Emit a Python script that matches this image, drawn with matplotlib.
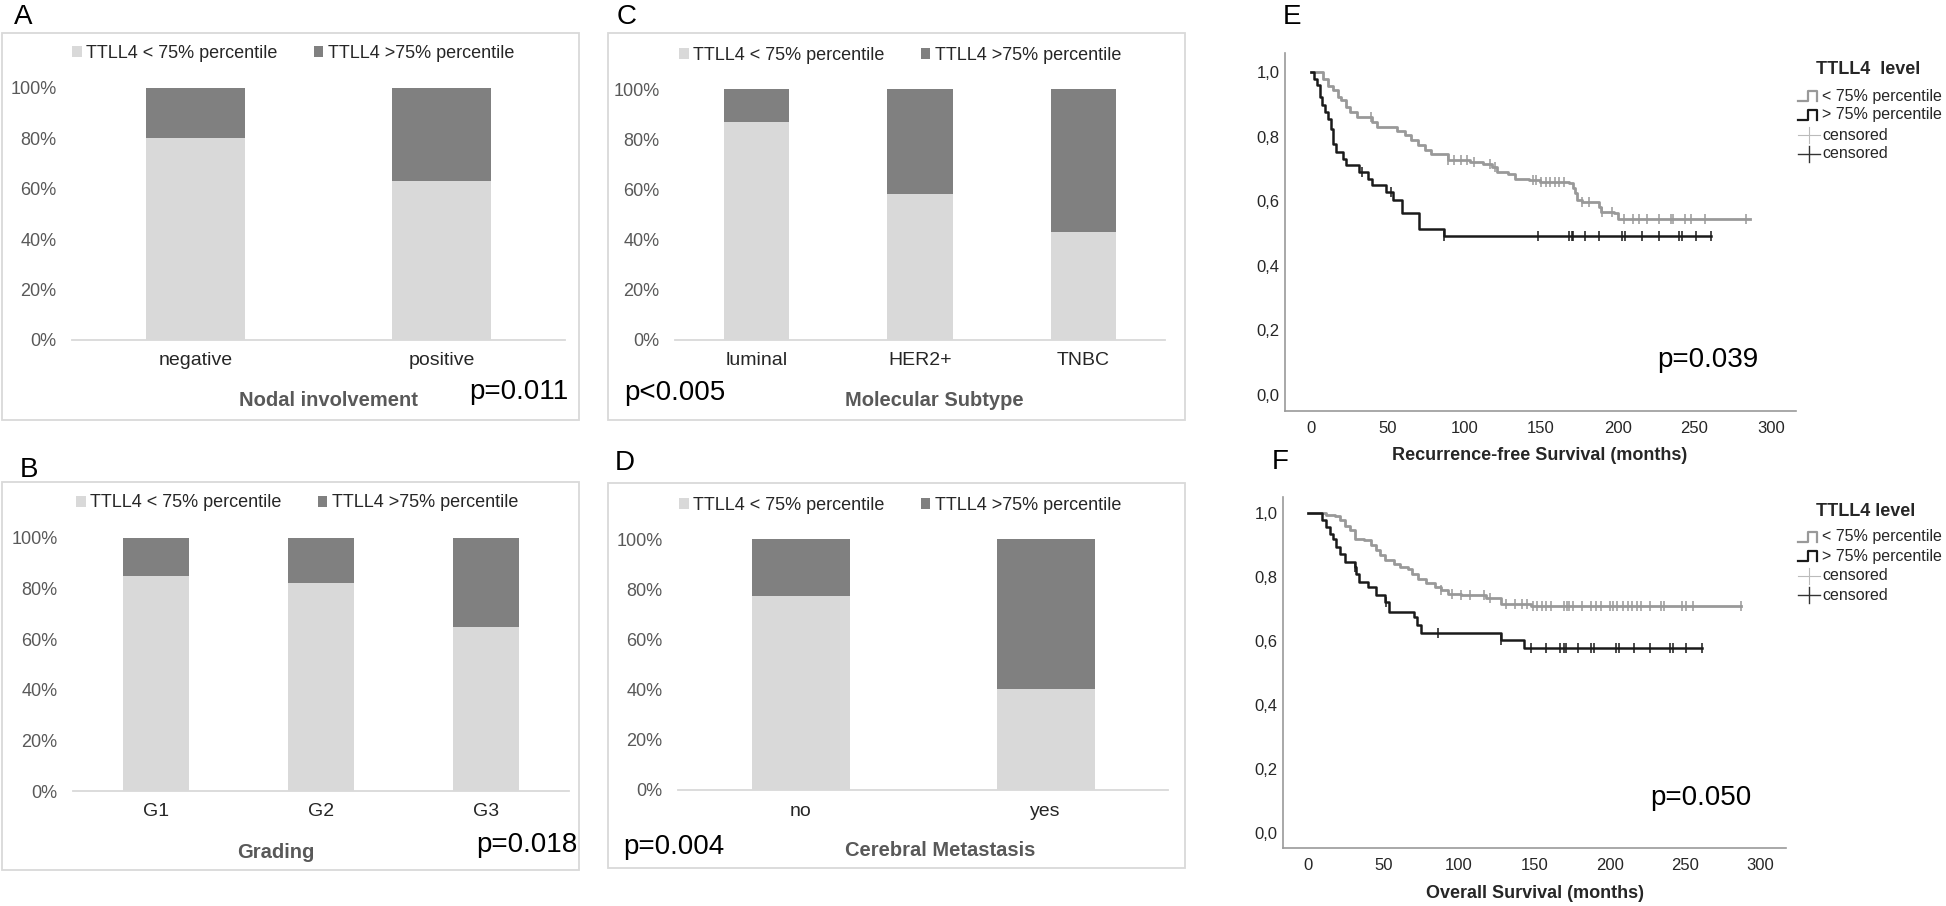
import numpy as np
import matplotlib
matplotlib.use("Agg")
import matplotlib.pyplot as plt
from matplotlib.patches import Rectangle, Patch
from matplotlib.lines import Line2D

plt.rcParams['font.family'] = ['Liberation Sans', 'DejaVu Sans']

# ---- bar chart data (share of patients with TTLL4 < 75% percentile) ----
leg_labels = ['TTLL4 < 75% percentile', 'TTLL4 >75% percentile']
nodal_cats = ['negative', 'positive']
nodal_low = [0.80, 0.632]
grade_cats = ['G1', 'G2', 'G3']
grade_low = [0.849, 0.824, 0.647]
subtype_cats = ['luminal', 'HER2+', 'TNBC']
subtype_low = [0.867, 0.582, 0.43]
meta_cats = ['no', 'yes']
meta_low = [0.771, 0.402]

# ---- Kaplan-Meier data (event times in months, survival after each step) ----
rfs_low_t = [8, 11, 14, 17.6, 19.7, 22.6, 25.6, 30, 40, 43, 56, 61, 65, 70, 74, 78.5, 89,
             103.5, 112, 118, 121, 128.5, 133, 142, 149, 168, 170.6, 172, 173.5, 177, 188,
             189, 197.6, 200]
rfs_low_s = [0.979, 0.956, 0.943, 0.923, 0.912, 0.892, 0.876, 0.861, 0.845, 0.83, 0.816,
             0.804, 0.789, 0.773, 0.758, 0.745, 0.727, 0.72, 0.716, 0.706, 0.69, 0.683, 0.67,
             0.665, 0.66, 0.655, 0.64, 0.624, 0.603, 0.598, 0.582, 0.567, 0.562, 0.546]
rfs_low_end = 286
rfs_low_cens = [39, 89, 93, 98, 102, 106, 117, 120, 145, 147, 150, 153, 156, 159, 162, 165,
                177, 181, 190, 196, 204, 210, 214, 219, 227, 235, 236, 244, 248, 257, 284]

rfs_high_t = [2, 4, 6, 7.4, 8.8, 11, 13, 14.4, 16, 21, 23, 31.5, 37, 40, 49, 53.5, 59, 70.6, 86.5]
rfs_high_s = [0.979, 0.959, 0.923, 0.897, 0.876, 0.856, 0.825, 0.778, 0.753, 0.732, 0.711,
              0.69, 0.67, 0.65, 0.629, 0.603, 0.562, 0.515, 0.492]
rfs_high_end = 261
rfs_high_cens = [33, 52, 87, 148, 168, 170, 171, 179, 188, 203, 205, 216, 227, 240, 242, 251, 261]

os_low_t = [12, 18, 21, 24.5, 28, 31, 37, 42, 45, 48, 51, 57, 61, 66, 69, 73, 78, 84, 88,
            92.5, 101.5, 118, 128, 148]
os_low_s = [0.995, 0.99, 0.977, 0.96, 0.946, 0.92, 0.915, 0.9, 0.884, 0.868, 0.852, 0.842,
            0.832, 0.826, 0.81, 0.795, 0.78, 0.77, 0.76, 0.748, 0.743, 0.733, 0.717, 0.709]
os_low_end = 287
os_low_cens = [88, 95.5, 101.5, 107.5, 116.4, 121, 131, 137, 142, 145, 149, 152, 155, 158,
               161, 170, 172, 173, 176, 182, 188, 191, 194, 200, 202, 205, 209, 212, 215,
               218, 221, 227, 234, 236, 248, 251, 255, 287]

os_high_t = [9, 12, 14.3, 16.4, 18.5, 21, 24.5, 31, 32, 34, 40, 45, 51, 54, 70, 72.5, 75, 128, 143]
os_high_s = [0.977, 0.956, 0.935, 0.92, 0.894, 0.873, 0.847, 0.832, 0.81, 0.785, 0.77, 0.743,
             0.722, 0.691, 0.676, 0.65, 0.626, 0.603, 0.577]
os_high_end = 261
os_high_cens = [31, 52, 86.5, 128, 148, 158, 167, 169.5, 171, 179, 187.5, 189.5, 204.5, 206,
                216, 227, 240, 242, 251, 261]

km_yticks = [0.0, 0.2, 0.4, 0.6, 0.8, 1.0]
km_ylabels = ['0,0', '0,2', '0,4', '0,6', '0,8', '1,0']
km_xticks = [0, 50, 100, 150, 200, 250, 300]

LIGHT = '#d9d9d9'
DARK = '#808080'
W, H = 1946, 906

fig = plt.figure(figsize=(W / 100, H / 100), dpi=100)


def fx(x):
    return x / W


def fy(y):
    return 1 - y / H


def rect(x0, y0, x1, y1):
    return [x0 / W, 1 - y1 / H, (x1 - x0) / W, (y1 - y0) / H]


def fig_line(xs, ys, **kw):
    fig.add_artist(Line2D([fx(x) for x in xs], [fy(y) for y in ys],
                          transform=fig.transFigure, **kw))


def bar_panel(letter, frame, box, cats, low, leg_xy, title, title_xy, ptext, p_xy, p_ha, letter_xy):
    fig.add_artist(Rectangle((fx(frame[0]), fy(frame[3])), (frame[2] - frame[0]) / W,
                             (frame[3] - frame[1]) / H, transform=fig.transFigure,
                             fill=False, edgecolor=LIGHT, lw=1.3))
    ax = fig.add_axes(rect(*box))
    x = np.arange(len(cats))
    low = np.array(low)
    ax.bar(x, low, width=0.40, color=LIGHT, edgecolor='none')
    ax.bar(x, 1 - low, bottom=low, width=0.40, color=DARK, edgecolor='none')
    ax.set_xlim(-0.5, len(cats) - 0.5)
    ax.set_ylim(0, 1)
    ax.set_yticks(np.arange(0, 1.01, 0.2))
    ax.set_yticklabels([f'{int(round(v * 100))}%' for v in np.arange(0, 1.01, 0.2)])
    ax.set_xticks(x)
    ax.set_xticklabels(cats)
    ax.tick_params(axis='y', length=0, pad=11, labelsize=13, labelcolor='#595959')
    ax.tick_params(axis='x', length=0, pad=9, labelsize=14, labelcolor='#262626')
    for s in ['top', 'right', 'left']:
        ax.spines[s].set_visible(False)
    ax.spines['bottom'].set_color(LIGHT)
    ax.spines['bottom'].set_linewidth(1.3)
    handles = [Patch(facecolor=LIGHT), Patch(facecolor=DARK)]
    ax.legend(handles, leg_labels, loc='center', bbox_to_anchor=(fx(leg_xy[0]), fy(leg_xy[1])),
              bbox_transform=fig.transFigure, ncol=2, frameon=False, fontsize=13,
              handlelength=0.55, handleheight=0.55, handletextpad=0.25, columnspacing=2.0,
              borderpad=0, labelcolor='#262626')
    fig.text(fx(title_xy[0]), fy(title_xy[1]), title, ha='center', va='center',
             fontsize=14.5, fontweight='bold', color='#595959')
    fig.text(fx(p_xy[0]), fy(p_xy[1]), ptext, ha=p_ha, va='center', fontsize=20, color='black')
    fig.text(fx(letter_xy[0]), fy(letter_xy[1]), letter, ha='left', va='center', fontsize=20)


bar_panel('A', (2, 33, 579, 420), (72, 88, 565, 340), nodal_cats, nodal_low, (293, 53),
          'Nodal involvement', (328, 400), 'p=0.011', (568, 392), 'right', (14, 17))
bar_panel('B', (2, 482, 579, 870), (73, 538, 569, 791), grade_cats, grade_low, (297, 503),
          'Grading', (276, 853), 'p=0.018', (577, 845), 'right', (20, 470))
bar_panel('C', (608, 33, 1185, 420), (675, 89, 1165, 340), subtype_cats, subtype_low, (900, 55),
          'Molecular Subtype', (934, 400), 'p<0.005', (624, 393), 'left', (617, 17))
bar_panel('D', (608, 483, 1185, 868), (678, 539, 1168, 790), meta_cats, meta_low, (900, 505),
          'Cerebral Metastasis', (940, 850), 'p=0.004', (623, 847), 'left', (615, 463))


def km_curve(ax, t, s, end, cens, color, lw):
    t = np.array(t, dtype=float)
    s = np.array(s, dtype=float)
    xs = np.r_[0, t, end]
    ys = np.r_[1.0, s, s[-1]]
    ax.step(xs, ys, where='post', color=color, lw=lw)
    cens = np.array(cens, dtype=float)
    idx = np.searchsorted(t, cens, side='right')
    cy = np.r_[1.0, s][idx]
    ax.plot(cens, cy, ls='none', marker='|', markersize=7, mew=1.1, color=color)


def km_panel(letter, letter_xy, box, xlim, ylim, curves, xlabel, xlabel_xy, ptext, p_xy,
             leg_title, leg_x, leg_ys):
    ax = fig.add_axes(rect(*box))
    for c in curves:
        km_curve(ax, *c)
    ax.set_xlim(*xlim)
    ax.set_ylim(*ylim)
    ax.set_xticks(km_xticks)
    ax.set_yticks(km_yticks)
    ax.set_yticklabels(km_ylabels)
    ax.tick_params(length=0, labelsize=12, labelcolor='#262626')
    ax.tick_params(axis='y', pad=4)
    ax.tick_params(axis='x', pad=7)
    for s in ['top', 'right']:
        ax.spines[s].set_visible(False)
    for s in ['left', 'bottom']:
        ax.spines[s].set_color('#9a9a9a')
        ax.spines[s].set_linewidth(1.2)
    fig.text(fx(xlabel_xy[0]), fy(xlabel_xy[1]), xlabel, ha='center', va='center',
             fontsize=13, fontweight='bold', color='#262626')
    fig.text(fx(p_xy[0]), fy(p_xy[1]), ptext, ha='left', va='center', fontsize=20)
    fig.text(fx(letter_xy[0]), fy(letter_xy[1]), letter, ha='left', va='center', fontsize=20)

    # legend
    fig.text(fx(leg_x + 18), fy(leg_ys[0]), leg_title, ha='left', va='center',
             fontsize=13, fontweight='bold', color='#262626')
    x0 = leg_x
    entries = [('< 75% percentile', '#999999', 'step', 1.6),
               ('> 75% percentile', '#1a1a1a', 'step', 1.6),
               ('censored', '#bbbbbb', 'cens', 0.8),
               ('censored', '#333333', 'cens', 1.0)]
    for (lab, col, kind, lw), y in zip(entries, leg_ys[1:]):
        if kind == 'step':
            fig_line([x0, x0 + 10, x0 + 10, x0 + 19, x0 + 19],
                     [y + 5, y + 5, y - 5, y - 5, y + 5], color=col, lw=lw)
        else:
            fig_line([x0, x0 + 22], [y, y], color=col, lw=lw)
            fig_line([x0 + 11, x0 + 11], [y - 8, y + 8], color=col, lw=lw)
        fig.text(fx(x0 + 24), fy(y), lab, ha='left', va='center', fontsize=11.5, color='#262626')


km_panel('E', (1283, 17), (1285, 53, 1796, 411), (-17, 316.3), (-0.05, 1.059),
         [(rfs_low_t, rfs_low_s, rfs_low_end, rfs_low_cens, '#999999', 2.0),
          (rfs_high_t, rfs_high_s, rfs_high_end, rfs_high_cens, '#1a1a1a', 1.8)],
         'Recurrence-free Survival (months)', (1540, 455), 'p=0.039', (1657, 360),
         'TTLL4  level', 1798, [70, 96, 115, 135, 154])
km_panel('F', (1272, 462), (1283, 497, 1786, 848), (-16.6, 317), (-0.047, 1.05),
         [(os_low_t, os_low_s, os_low_end, os_low_cens, '#999999', 2.0),
          (os_high_t, os_high_s, os_high_end, os_high_cens, '#1a1a1a', 1.8)],
         'Overall Survival (months)', (1535, 893), 'p=0.050', (1650, 798),
         'TTLL4 level', 1798, [512, 537, 556, 576, 595])

fig.savefig('out.png', dpi=100)
